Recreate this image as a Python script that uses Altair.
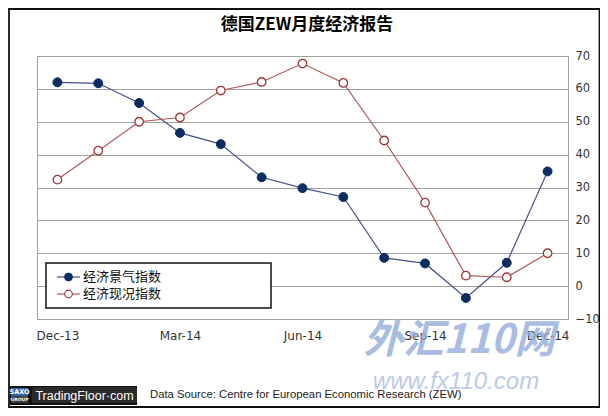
import altair as alt
import pandas as pd

# ---------------- data ----------------
months = ["Dec-13", "Jan-14", "Feb-14", "Mar-14", "Apr-14", "May-14", "Jun-14",
          "Jul-14", "Aug-14", "Sep-14", "Oct-14", "Nov-14", "Dec-14"]
sentiment = [62.0, 61.7, 55.7, 46.6, 43.2, 33.1, 29.8, 27.1, 8.6, 6.9, -3.6, 7.1, 34.9]
current = [32.4, 41.2, 50.0, 51.3, 59.5, 62.1, 67.7, 61.8, 44.3, 25.4, 3.2, 2.7, 10.0]
series_names = ["经济景气指数", "经济现况指数"]
tick_months = ["Dec-13", "Mar-14", "Jun-14", "Sep-14", "Dec-14"]
y_ticks = [-10, 0, 10, 20, 30, 40, 50, 60, 70]
title_text = "德国ZEW月度经济报告"
source_text = "Data Source: Centre for European Economic Research (ZEW)"
logo_text = "TradingFloor·com"
wm_big = "外汇110网"
wm_url = "www.fx110.com"

df = pd.DataFrame({
    "month": months * 2,
    "value": sentiment + current,
    "series": [series_names[0]] * len(months) + [series_names[1]] * len(months),
})

# ---------------- layout helpers ----------------
W, H = 531, 263
OX, OY = 37, 56          # plot origin in page pixels


def px(x):
    return x - OX


def py(y):
    return y - OY


BLUE_LINE = "#44508c"
BLUE_DOT = "#0b2d5f"
RED_LINE = "#b05858"
RED_DOT = "#a03535"
GRID = "#a0a0a0"
CJK = "Noto Sans CJK SC"

one = alt.Data(values=[{}])

x_enc = alt.X(
    "month:O",
    sort=months,
    scale=alt.Scale(type="point", domain=months, padding=0.5),
    axis=alt.Axis(values=tick_months, title=None, labelAngle=0, ticks=False,
                  domain=False, grid=False, labelFont="DejaVu Sans",
                  labelFontSize=12, labelColor="#333333", labelPadding=11,
                  labelAlign="center"),
)
y_enc = alt.Y(
    "value:Q",
    scale=alt.Scale(domain=[-10, 70], nice=False, zero=False),
    axis=alt.Axis(orient="right", values=y_ticks, title=None, grid=True,
                  gridColor=GRID, gridWidth=1, ticks=False, domain=False,
                  labelFont="DejaVu Sans", labelFontSize=11.5,
                  labelColor="#333333", labelPadding=7, labelAlign="left"),
)

base = alt.Chart(df).encode(x=x_enc, y=y_enc)

line_s = base.transform_filter(alt.datum.series == series_names[0]).mark_line(
    color=BLUE_LINE, strokeWidth=1.2)
line_c = base.transform_filter(alt.datum.series == series_names[1]).mark_line(
    color=RED_LINE, strokeWidth=1.2)
pts_s = base.transform_filter(alt.datum.series == series_names[0]).mark_point(
    filled=True, fill=BLUE_DOT, stroke=BLUE_DOT, strokeWidth=1, size=80, opacity=1)
pts_c = base.transform_filter(alt.datum.series == series_names[1]).mark_point(
    filled=True, fill="white", stroke=RED_DOT, strokeWidth=1.3, size=72, opacity=1)


def rect(x1, x2, y1, y2, **kw):
    return alt.Chart(one).mark_rect(**kw).encode(
        x=alt.value(px(x1)), x2=alt.value(px(x2)),
        y=alt.value(py(y1)), y2=alt.value(py(y2)))


def text(x, y, s, **kw):
    return alt.Chart(one).mark_text(**kw).encode(
        x=alt.value(px(x)), y=alt.value(py(y)), text=alt.value(s))


# ---------------- title ----------------
title = text(307, 25, title_text, font=CJK, fontSize=17, fontWeight="bold",
             color="#000000", align="center", baseline="middle")

# ---------------- legend ----------------
legend_layers = [rect(46, 271, 263, 308, fill="white", stroke="#111111", strokeWidth=1.5)]
rows = [
    (277, BLUE_LINE, dict(filled=True, fill=BLUE_DOT, stroke=BLUE_DOT, strokeWidth=1, size=62)),
    (294, RED_LINE, dict(filled=True, fill="white", stroke=RED_DOT, strokeWidth=1.2, size=58)),
]
for (yy, lc, pkw), name in zip(rows, series_names):
    legend_layers.append(
        alt.Chart(one).mark_rule(color=lc, strokeWidth=1.2).encode(
            x=alt.value(px(57)), x2=alt.value(px(80)), y=alt.value(py(yy))))
    legend_layers.append(
        alt.Chart(one).mark_point(opacity=1, **pkw).encode(
            x=alt.value(px(68.5)), y=alt.value(py(yy))))
    legend_layers.append(
        text(83, yy, name, font=CJK, fontSize=13, color="#111111",
             align="left", baseline="middle"))

# ---------------- frame, footer, watermark ----------------
frame = rect(9, 599.5, 9, 407, fillOpacity=0, stroke="#111111", strokeWidth=1.8)
logo = [
    rect(10, 137, 386, 405, fill="#111111"),
    rect(11, 28, 388, 396, fill="#2f63b0"),
    rect(11, 28, 396, 403, fill="#3a3a3a"),
    text(19.5, 392, "SAXO", font="DejaVu Sans", fontSize=6.5, fontWeight="bold",
         color="white", align="center", baseline="middle"),
    text(19.5, 399.5, "GROUP", font="DejaVu Sans", fontSize=4.5, fontWeight="bold",
         color="white", align="center", baseline="middle"),
    rect(32, 137, 387, 403, fill="#2b2b2b", cornerRadius=2),
    text(84.5, 395.5, logo_text, font="Liberation Sans", fontSize=12.5,
         color="white", align="center", baseline="middle"),
]
source = text(150, 395, source_text, font="Liberation Sans", fontSize=11.3,
              color="#222222", align="left", baseline="middle")
wm = [
    text(459, 341, wm_big, font=CJK, fontSize=40, fontWeight="bold",
         fontStyle="italic", color="#94acda", opacity=0.8,
         align="center", baseline="middle"),
    text(456, 382, wm_url, font="Liberation Sans", fontSize=24,
         fontStyle="italic", color="#b0c2e4", opacity=0.85,
         align="center", baseline="middle"),
]

chart = alt.layer(
    line_s, line_c, pts_s, pts_c, *legend_layers, frame, title, *logo, source, *wm
).properties(
    width=W,
    height=H,
    autosize="none",
    padding={"left": 29, "top": 48, "right": 32, "bottom": 89},
    background="white",
).configure_view(stroke=GRID, strokeWidth=1)

chart.save("out.html", embed_options={"renderer": "svg", "actions": False})
